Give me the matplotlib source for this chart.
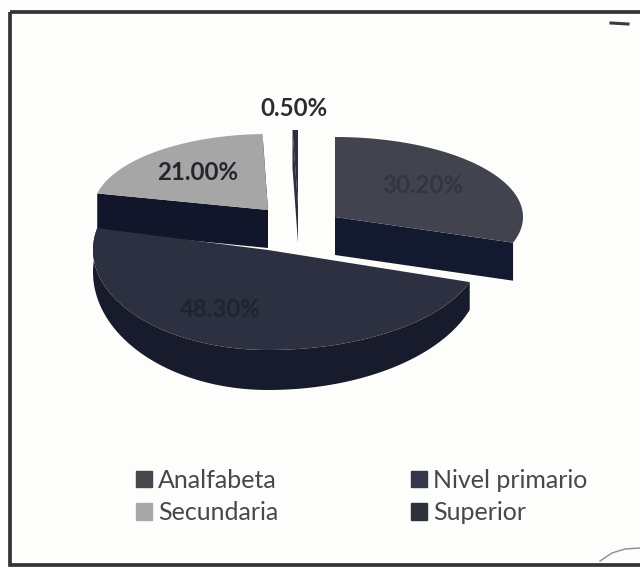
import numpy as np
import matplotlib
matplotlib.use('Agg')
import matplotlib.pyplot as plt
from matplotlib.patches import Patch, Rectangle

# Datos del grafico
categorias = ['Analfabeta', 'Nivel primario', 'Secundaria', 'Superior']
porcentajes = [30.2, 48.3, 21.0, 0.5]
etiquetas = ['30.20%', '48.30%', '21.00%', '0.50%']
colores_top = ['#41444f', '#2c3040', '#a6a6a6', '#2b2f3e']
colores_lado = ['#131a30', '#171b2c', '#12162a', '#2b2f3e']
colores_legend = ['#45474c', '#34374a', '#a8a8a8', '#2d323c']

# centro x, centro y, radio izq, radio der, radio y, grosor
geometria = [
    (335, 217, 187, 188, 80, 38),
    (268, 250, 175, 213, 100, 40),
    (268, 210, 175, 175, 76, 38),
    (298, 205, 175, 175, 75, 38),
]
pos_etiquetas = [(423, 185), (220, 309), (198, 172), (294, 108)]
color_etiquetas = ['#33363f', '#20242f', '#23262c', '#2a2d33']

plt.rcParams['font.family'] = ['Lato', 'DejaVu Sans']

fig = plt.figure(figsize=(6.4, 5.69), dpi=100, facecolor='#fdfdfb')
ax = fig.add_axes([0, 0, 1, 1])
ax.set_xlim(0, 640)
ax.set_ylim(569, 0)
ax.axis('off')

# marco (el lado derecho queda fuera de la imagen)
ax.add_patch(Rectangle((10, 12), 650, 553, fill=False, edgecolor='#30363a', linewidth=2.7))
# marcas del escaneo
ax.plot([611, 628], [23, 24], color='#3a3d40', lw=2.2)
ax.plot([600, 612, 625, 640], [561, 553, 549, 548], color='#8a8d90', lw=1.0)


def rim(t, g):
    cx, cy, rl, rr, ry, d = g
    x = cx + np.sin(t) * np.where(np.sin(t) > 0, rr, rl)
    y = cy - np.cos(t) * ry
    return x, y


limites = np.cumsum([0] + porcentajes) / 100 * 2 * np.pi

# se dibuja de atras hacia adelante
for i in [2, 3, 0, 1]:
    g = geometria[i]
    cx, cy, d = g[0], g[1], g[5]
    t = np.linspace(limites[i], limites[i + 1], 120)
    x, y = rim(t, g)
    if i == 1:
        # borde curvo, mas grueso al frente
        prof = d * (0.55 - 0.45 * np.cos(t))
        ax.fill(np.r_[x, x[::-1]], np.r_[y, (y + prof)[::-1]], color=colores_lado[i], lw=0)
    else:
        # caras del corte
        ax.fill([cx, x[0], x[0], cx], [cy, y[0], y[0] + d, cy + d], color=colores_lado[i], lw=0)
        ax.fill([cx, x[-1], x[-1], cx], [cy, y[-1], y[-1] + d, cy + d], color=colores_lado[i], lw=0)
    # cara superior
    ax.fill(np.r_[cx, x], np.r_[cy, y], color=colores_top[i], lw=0)

for lab, (lx, ly), c in zip(etiquetas, pos_etiquetas, color_etiquetas):
    ax.text(lx, ly, lab, ha='center', va='center', fontsize=17.3, fontweight='bold', color=c)

handles = [Patch(color=c) for c in colores_legend]
orden = [0, 2, 1, 3]
ax.legend([handles[k] for k in orden], [categorias[k] for k in orden], ncol=2,
          loc='center', bbox_to_anchor=(0.565, 0.127), frameon=False, fontsize=18,
          labelcolor='#45484c', handlelength=0.64, handleheight=0.64, handletextpad=0.25,
          columnspacing=5.3, labelspacing=0.38)

fig.savefig('out.png', dpi=100, facecolor=fig.get_facecolor())
